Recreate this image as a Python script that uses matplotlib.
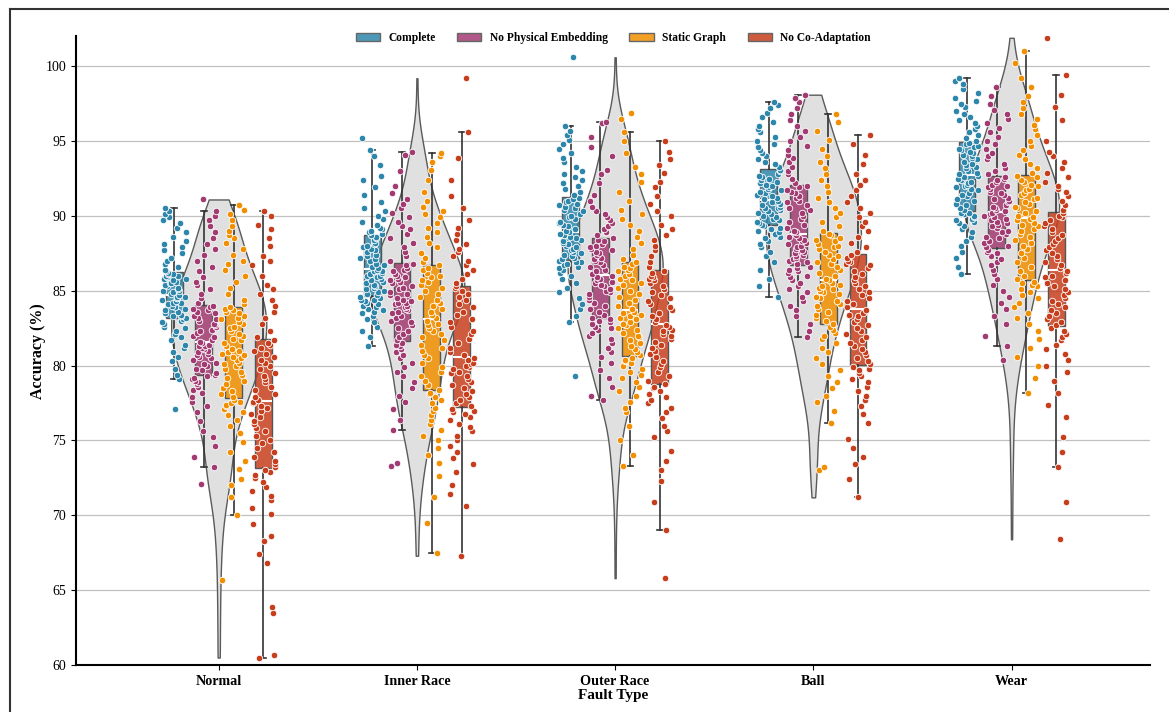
import numpy as np
import pandas as pd
import matplotlib.pyplot as plt
import matplotlib.patches as mpatches
from matplotlib.lines import Line2D
from matplotlib.colors import to_rgba
import seaborn as sns

plt.rcParams['font.family'] = ['Liberation Serif', 'DejaVu Serif']

fault_types = ["Normal", "Inner Race", "Outer Race", "Ball", "Wear"]
methods = ["Complete", "No Physical Embedding", "Static Graph", "No Co-Adaptation"]
colors = ["#2E86AB", "#A23B72", "#F18F01", "#C73E1D"]

# accuracy values, one list per (fault type, method)
normal_complete = [77.1, 79.1, 79.4, 79.8, 80.3, 80.6, 80.9, 81.2, 81.4, 81.7, 81.9, 82.1, 82.3, 82.5, 82.6, 82.8, 82.9, 83.0, 83.0, 83.1,
                   83.2, 83.3, 83.3, 83.4, 83.5, 83.6, 83.7, 83.8, 83.9, 84.0, 84.1, 84.2, 84.2, 84.3, 84.4, 84.5, 84.5, 84.6, 84.6, 84.7,
                   84.8, 84.9, 85.0, 85.0, 85.1, 85.2, 85.3, 85.4, 85.5, 85.5, 85.6, 85.7, 85.8, 85.8, 85.9, 86.0, 86.0, 86.1, 86.1, 86.2,
                   86.3, 86.4, 86.6, 86.8, 87.0, 87.2, 87.5, 87.7, 87.9, 88.1, 88.3, 88.6, 88.9, 89.2, 89.5, 89.7, 89.9, 90.1, 90.3, 90.5]
normal_nophys = [72.1, 73.2, 73.9, 74.6, 75.2, 75.6, 76.3, 76.9, 77.3, 77.6, 77.9, 78.2, 78.4, 78.6, 78.8, 78.9, 79.0, 79.1, 79.2, 79.3,
                 79.4, 79.5, 79.7, 79.8, 80.0, 80.1, 80.2, 80.4, 80.5, 80.6, 80.7, 80.8, 80.9, 81.0, 81.1, 81.2, 81.3, 81.3, 81.4, 81.5,
                 81.6, 81.7, 81.9, 82.0, 82.2, 82.3, 82.4, 82.6, 82.7, 82.8, 83.0, 83.1, 83.2, 83.3, 83.5, 83.6, 83.7, 83.8, 83.9, 84.0,
                 84.2, 84.5, 84.8, 85.1, 85.4, 85.6, 85.9, 86.3, 86.6, 87.0, 87.4, 87.8, 88.1, 88.5, 88.9, 89.3, 89.7, 90.0, 90.3, 91.1]
normal_static = [65.7, 70.0, 71.2, 72.0, 72.4, 73.1, 73.6, 74.2, 74.9, 75.5, 76.0, 76.4, 76.7, 76.9, 77.1, 77.3, 77.4, 77.5, 77.6, 77.7,
                 77.9, 78.1, 78.3, 78.5, 78.8, 79.0, 79.2, 79.4, 79.6, 79.8, 80.0, 80.1, 80.2, 80.4, 80.5, 80.6, 80.7, 80.8, 80.9, 81.0,
                 81.1, 81.3, 81.5, 81.7, 81.8, 82.0, 82.1, 82.3, 82.5, 82.6, 82.8, 82.9, 83.1, 83.2, 83.3, 83.5, 83.6, 83.7, 83.8, 83.9,
                 84.1, 84.4, 84.8, 85.2, 85.6, 86.0, 86.4, 86.8, 87.0, 87.4, 87.8, 88.2, 88.5, 88.7, 89.0, 89.3, 89.7, 90.1, 90.4, 90.7]
normal_nocoad = [60.5, 60.7, 63.5, 63.9, 66.8, 67.4, 68.3, 68.6, 69.4, 70.1, 70.5, 71.0, 71.3, 71.6, 71.9, 72.2, 72.5, 72.7, 72.9, 73.0,
                 73.2, 73.4, 73.6, 73.9, 74.2, 74.5, 74.8, 75.0, 75.3, 75.6, 75.8, 76.1, 76.3, 76.6, 76.8, 77.0, 77.2, 77.3, 77.5, 77.6,
                 77.7, 77.9, 78.1, 78.4, 78.6, 78.9, 79.1, 79.3, 79.5, 79.8, 80.0, 80.2, 80.4, 80.6, 80.8, 81.0, 81.2, 81.4, 81.5, 81.7,
                 81.9, 82.3, 82.8, 83.2, 83.6, 84.0, 84.4, 84.8, 85.1, 85.4, 86.0, 86.7, 87.0, 87.3, 88.0, 88.5, 89.1, 89.4, 90.0, 90.3]

inner_complete = [81.3, 81.9, 82.3, 82.6, 82.9, 83.1, 83.3, 83.5, 83.6, 83.7, 83.8, 83.9, 84.0, 84.1, 84.2, 84.3, 84.4, 84.4, 84.5, 84.6,
                  84.7, 84.8, 84.9, 85.0, 85.1, 85.2, 85.3, 85.4, 85.5, 85.6, 85.7, 85.8, 85.9, 86.0, 86.0, 86.1, 86.2, 86.3, 86.3, 86.4,
                  86.5, 86.6, 86.7, 86.8, 87.0, 87.1, 87.2, 87.3, 87.4, 87.6, 87.7, 87.8, 87.9, 88.0, 88.1, 88.2, 88.4, 88.5, 88.6, 88.7,
                  88.8, 88.9, 89.0, 89.1, 89.2, 89.4, 89.6, 89.8, 90.0, 90.3, 90.5, 90.9, 91.4, 91.9, 92.4, 92.7, 93.4, 94.0, 94.4, 95.2]
inner_nophys = [73.3, 73.5, 75.7, 76.4, 77.1, 77.6, 78.0, 78.5, 78.9, 79.3, 79.6, 79.9, 80.2, 80.5, 80.7, 80.9, 81.1, 81.3, 81.4, 81.5,
                81.7, 81.9, 82.1, 82.3, 82.5, 82.7, 82.9, 83.0, 83.2, 83.3, 83.5, 83.6, 83.7, 83.8, 83.9, 84.0, 84.1, 84.2, 84.2, 84.3,
                84.4, 84.5, 84.7, 84.8, 84.9, 85.1, 85.2, 85.3, 85.5, 85.6, 85.7, 85.8, 85.9, 86.0, 86.1, 86.3, 86.4, 86.5, 86.7, 86.8,
                87.0, 87.3, 87.6, 87.9, 88.2, 88.5, 88.8, 89.1, 89.3, 89.6, 89.9, 90.2, 90.5, 90.8, 91.1, 91.5, 92.0, 93.0, 94.1, 94.3]
inner_static = [67.5, 69.5, 71.2, 72.6, 73.5, 74.0, 74.5, 75.0, 75.3, 75.7, 76.1, 76.4, 76.7, 77.0, 77.2, 77.5, 77.7, 77.9, 78.1, 78.2,
                78.4, 78.7, 79.0, 79.3, 79.6, 79.9, 80.2, 80.5, 80.7, 81.0, 81.2, 81.4, 81.7, 81.9, 82.1, 82.3, 82.5, 82.7, 82.8, 83.0,
                83.2, 83.4, 83.6, 83.8, 84.0, 84.2, 84.4, 84.6, 84.8, 85.0, 85.2, 85.4, 85.6, 85.7, 85.9, 86.0, 86.2, 86.4, 86.5, 86.7,
                86.9, 87.2, 87.5, 87.9, 88.2, 88.6, 88.9, 89.2, 89.5, 89.9, 90.1, 90.3, 90.6, 91.0, 91.6, 92.4, 93.1, 93.6, 94.0, 94.2]
inner_nocoad = [67.3, 70.6, 71.4, 72.0, 72.9, 73.4, 73.8, 74.2, 74.6, 75.0, 75.3, 75.6, 75.9, 76.1, 76.4, 76.6, 76.8, 76.9, 77.0, 77.1,
                77.3, 77.5, 77.7, 77.9, 78.1, 78.3, 78.5, 78.7, 78.9, 79.1, 79.3, 79.5, 79.6, 79.8, 79.9, 80.0, 80.1, 80.2, 80.4, 80.5,
                80.7, 80.9, 81.2, 81.5, 81.8, 82.1, 82.3, 82.6, 82.9, 83.1, 83.4, 83.6, 83.9, 84.1, 84.4, 84.6, 84.8, 85.0, 85.2, 85.3,
                85.5, 85.8, 86.1, 86.4, 86.7, 87.0, 87.3, 87.6, 87.8, 88.1, 88.4, 88.8, 89.2, 89.7, 90.5, 91.3, 92.4, 93.9, 95.6, 99.2]

outer_complete = [79.3, 82.9, 83.3, 83.8, 84.1, 84.5, 84.9, 85.2, 85.5, 85.8, 86.0, 86.2, 86.4, 86.5, 86.6, 86.7, 86.8, 86.9, 86.9, 87.0,
                  87.1, 87.2, 87.3, 87.4, 87.5, 87.6, 87.7, 87.8, 87.9, 88.0, 88.1, 88.2, 88.3, 88.4, 88.5, 88.6, 88.7, 88.7, 88.8, 88.9,
                  89.0, 89.1, 89.3, 89.4, 89.5, 89.6, 89.8, 89.9, 90.0, 90.1, 90.3, 90.4, 90.5, 90.6, 90.7, 90.8, 90.9, 91.0, 91.1, 91.2,
                  91.4, 91.6, 91.8, 92.0, 92.2, 92.4, 92.6, 92.8, 93.0, 93.3, 93.6, 93.9, 94.2, 94.5, 94.8, 95.1, 95.4, 95.7, 96.0, 100.6]
outer_nophys = [77.7, 78.0, 78.6, 79.2, 79.7, 80.2, 80.6, 80.9, 81.2, 81.5, 81.8, 82.0, 82.2, 82.4, 82.5, 82.6, 82.8, 82.9, 83.0, 83.1,
                83.2, 83.4, 83.6, 83.8, 84.0, 84.2, 84.4, 84.6, 84.8, 84.9, 85.0, 85.1, 85.3, 85.4, 85.5, 85.6, 85.7, 85.8, 85.9, 86.0,
                86.1, 86.3, 86.4, 86.6, 86.7, 86.9, 87.0, 87.1, 87.2, 87.4, 87.5, 87.6, 87.7, 87.8, 87.9, 88.0, 88.1, 88.3, 88.4, 88.5,
                88.7, 88.9, 89.1, 89.3, 89.5, 89.7, 89.9, 90.1, 90.3, 90.6, 91.0, 91.4, 92.2, 92.8, 93.1, 94.0, 94.6, 95.3, 96.2, 96.3]
outer_static = [73.3, 74.0, 75.0, 76.0, 76.9, 77.2, 77.6, 78.0, 78.3, 78.6, 78.9, 79.2, 79.4, 79.6, 79.8, 80.0, 80.2, 80.3, 80.4, 80.5,
                80.7, 80.9, 81.1, 81.3, 81.5, 81.7, 81.9, 82.0, 82.2, 82.4, 82.5, 82.7, 82.8, 82.9, 83.1, 83.2, 83.3, 83.4, 83.5, 83.6,
                83.8, 84.0, 84.2, 84.4, 84.6, 84.8, 85.0, 85.2, 85.4, 85.5, 85.7, 85.8, 86.0, 86.1, 86.3, 86.4, 86.5, 86.6, 86.8, 86.9,
                87.1, 87.4, 87.8, 88.2, 88.6, 89.0, 89.4, 89.8, 90.1, 90.4, 91.0, 91.6, 92.3, 92.8, 93.3, 94.2, 95.0, 95.6, 96.5, 96.9]
outer_nocoad = [65.8, 69.0, 70.9, 72.3, 73.0, 73.6, 74.3, 75.2, 75.6, 76.0, 76.5, 76.9, 77.2, 77.5, 77.7, 77.9, 78.1, 78.3, 78.5, 78.6,
                78.8, 79.0, 79.3, 79.6, 79.9, 80.1, 80.3, 80.6, 80.8, 81.0, 81.2, 81.4, 81.6, 81.8, 82.0, 82.1, 82.3, 82.4, 82.6, 82.7,
                82.9, 83.1, 83.3, 83.5, 83.7, 83.9, 84.1, 84.3, 84.5, 84.7, 84.9, 85.1, 85.3, 85.5, 85.7, 85.8, 85.9, 86.0, 86.2, 86.3,
                86.6, 86.9, 87.3, 87.7, 88.0, 88.4, 88.7, 89.1, 89.4, 90.0, 90.3, 90.8, 91.3, 91.9, 92.3, 92.9, 93.4, 93.8, 94.3, 95.0]

ball_complete = [84.6, 85.3, 85.8, 86.4, 86.9, 87.3, 87.6, 87.9, 88.1, 88.3, 88.5, 88.6, 88.7, 88.8, 88.9, 89.0, 89.1, 89.1, 89.2, 89.3,
                 89.4, 89.5, 89.6, 89.7, 89.8, 89.9, 90.0, 90.1, 90.2, 90.3, 90.4, 90.5, 90.5, 90.6, 90.7, 90.8, 90.8, 90.9, 90.9, 91.0,
                 91.1, 91.2, 91.3, 91.4, 91.5, 91.6, 91.7, 91.8, 91.9, 92.0, 92.1, 92.2, 92.3, 92.4, 92.5, 92.6, 92.7, 92.8, 93.0, 93.1,
                 93.3, 93.5, 93.6, 93.8, 94.0, 94.2, 94.4, 94.6, 94.8, 95.0, 95.3, 95.6, 95.8, 96.0, 96.3, 96.6, 96.9, 97.2, 97.4, 97.6]
ball_nophys = [81.9, 82.3, 82.8, 83.3, 83.7, 84.0, 84.3, 84.6, 84.9, 85.1, 85.3, 85.5, 85.7, 85.9, 86.0, 86.2, 86.3, 86.4, 86.5, 86.6,
               86.8, 86.9, 87.0, 87.1, 87.2, 87.3, 87.4, 87.5, 87.6, 87.7, 87.8, 87.9, 88.0, 88.1, 88.2, 88.3, 88.4, 88.5, 88.6, 88.7,
               88.9, 89.0, 89.2, 89.4, 89.6, 89.8, 90.0, 90.2, 90.4, 90.5, 90.7, 90.9, 91.0, 91.2, 91.3, 91.5, 91.6, 91.7, 91.9, 92.0,
               92.2, 92.5, 92.8, 93.0, 93.3, 93.6, 93.9, 94.1, 94.4, 94.7, 95.0, 95.3, 95.7, 96.0, 96.4, 96.8, 97.2, 97.6, 97.9, 98.1]
ball_static = [73.0, 73.2, 76.2, 77.0, 77.6, 78.0, 78.5, 78.9, 79.3, 79.7, 80.1, 80.5, 80.9, 81.2, 81.5, 81.8, 82.0, 82.2, 82.4, 82.6,
               82.8, 83.0, 83.2, 83.4, 83.6, 83.8, 84.0, 84.1, 84.3, 84.5, 84.6, 84.8, 84.9, 85.0, 85.1, 85.2, 85.3, 85.4, 85.5, 85.7,
               85.8, 86.0, 86.2, 86.4, 86.6, 86.8, 86.9, 87.1, 87.3, 87.4, 87.6, 87.8, 87.9, 88.0, 88.1, 88.3, 88.4, 88.5, 88.7, 88.8,
               89.0, 89.3, 89.6, 89.9, 90.2, 90.5, 90.9, 91.2, 91.6, 92.0, 92.4, 92.8, 93.2, 93.6, 94.0, 94.5, 95.1, 95.7, 96.3, 96.8]
ball_nocoad = [71.2, 72.4, 73.4, 73.9, 74.5, 75.1, 76.2, 76.8, 77.3, 77.7, 78.0, 78.3, 78.6, 78.9, 79.1, 79.3, 79.5, 79.7, 79.8, 79.9,
               80.1, 80.3, 80.5, 80.7, 80.9, 81.1, 81.3, 81.5, 81.7, 81.9, 82.1, 82.3, 82.5, 82.7, 82.9, 83.1, 83.3, 83.4, 83.5, 83.7,
               83.9, 84.1, 84.3, 84.5, 84.7, 84.9, 85.1, 85.3, 85.5, 85.7, 85.9, 86.1, 86.3, 86.5, 86.7, 86.8, 86.9, 87.0, 87.2, 87.4,
               87.6, 87.9, 88.2, 88.6, 89.0, 89.3, 89.6, 89.9, 90.2, 90.5, 90.9, 91.3, 91.7, 92.1, 92.4, 92.8, 93.5, 94.1, 94.8, 95.4]

wear_complete = [86.1, 86.6, 87.2, 87.6, 88.0, 88.3, 88.6, 88.9, 89.1, 89.3, 89.5, 89.6, 89.7, 89.8, 89.9, 90.0, 90.1, 90.1, 90.2, 90.2,
                 90.4, 90.5, 90.7, 90.8, 91.0, 91.1, 91.3, 91.4, 91.5, 91.7, 91.8, 91.9, 92.0, 92.1, 92.2, 92.3, 92.4, 92.5, 92.6, 92.7,
                 92.8, 92.9, 93.0, 93.2, 93.3, 93.4, 93.5, 93.6, 93.8, 93.9, 94.0, 94.1, 94.2, 94.3, 94.4, 94.5, 94.6, 94.7, 94.8, 94.9,
                 95.0, 95.2, 95.4, 95.6, 95.8, 96.0, 96.2, 96.4, 96.6, 96.8, 97.0, 97.3, 97.5, 97.7, 97.9, 98.2, 98.5, 98.8, 99.0, 99.2]
wear_nophys = [80.4, 81.3, 82.0, 82.8, 83.3, 83.8, 84.2, 84.6, 85.0, 85.4, 85.8, 86.1, 86.4, 86.7, 86.9, 87.1, 87.3, 87.5, 87.6, 87.7,
               87.9, 88.0, 88.2, 88.3, 88.5, 88.6, 88.8, 88.9, 89.0, 89.2, 89.3, 89.4, 89.5, 89.6, 89.7, 89.8, 89.9, 90.0, 90.1, 90.2,
               90.3, 90.4, 90.5, 90.6, 90.7, 90.9, 91.0, 91.1, 91.2, 91.4, 91.5, 91.6, 91.8, 91.9, 92.0, 92.1, 92.3, 92.4, 92.5, 92.6,
               92.8, 93.0, 93.2, 93.5, 93.8, 94.0, 94.2, 94.5, 94.8, 95.0, 95.3, 95.6, 95.9, 96.2, 96.5, 96.8, 97.1, 97.5, 98.0, 98.6]
wear_static = [78.2, 79.2, 80.0, 80.6, 81.2, 81.8, 82.3, 82.8, 83.2, 83.5, 83.9, 84.2, 84.5, 84.7, 84.9, 85.1, 85.3, 85.4, 85.5, 85.6,
               85.8, 86.0, 86.3, 86.6, 86.9, 87.2, 87.5, 87.8, 88.0, 88.2, 88.4, 88.6, 88.8, 89.0, 89.1, 89.3, 89.4, 89.5, 89.7, 89.8,
               89.9, 90.0, 90.2, 90.3, 90.5, 90.6, 90.8, 90.9, 91.1, 91.2, 91.4, 91.5, 91.7, 91.8, 92.0, 92.1, 92.3, 92.4, 92.6, 92.7,
               92.9, 93.2, 93.5, 93.8, 94.1, 94.4, 94.7, 95.0, 95.4, 95.8, 96.1, 96.5, 96.8, 97.2, 97.6, 98.0, 98.6, 99.2, 100.2, 101.0]
wear_nocoad = [68.4, 70.9, 73.2, 74.2, 75.2, 76.6, 77.4, 78.2, 79.0, 79.6, 80.0, 80.4, 80.8, 81.1, 81.4, 81.7, 81.9, 82.1, 82.3, 82.5,
               82.7, 82.9, 83.1, 83.3, 83.5, 83.7, 83.9, 84.1, 84.3, 84.5, 84.7, 84.9, 85.1, 85.3, 85.5, 85.7, 85.9, 86.0, 86.2, 86.3,
               86.5, 86.7, 86.9, 87.1, 87.3, 87.5, 87.7, 87.9, 88.1, 88.3, 88.5, 88.7, 88.9, 89.1, 89.3, 89.5, 89.7, 89.9, 90.0, 90.2,
               90.4, 90.7, 91.0, 91.3, 91.6, 91.8, 92.0, 92.3, 92.6, 92.9, 93.2, 93.6, 94.0, 94.3, 95.0, 96.4, 97.3, 98.1, 99.4, 101.9]

groups = {
    "Normal": [normal_complete, normal_nophys, normal_static, normal_nocoad],
    "Inner Race": [inner_complete, inner_nophys, inner_static, inner_nocoad],
    "Outer Race": [outer_complete, outer_nophys, outer_static, outer_nocoad],
    "Ball": [ball_complete, ball_nophys, ball_static, ball_nocoad],
    "Wear": [wear_complete, wear_nophys, wear_static, wear_nocoad],
}

np.random.seed(0)

fig, ax = plt.subplots(figsize=(11.69, 7.12), dpi=100)
fig.subplots_adjust(left=0.065, right=0.984, bottom=0.066, top=0.949)

x = np.arange(len(fault_types))
offsets = [-0.225, -0.075, 0.075, 0.225]

# gray violin of all methods pooled, per fault type
pooled = [np.concatenate(groups[f]) for f in fault_types]
vp = ax.violinplot(pooled, positions=x, widths=0.48, showextrema=False)
for body in vp['bodies']:
    body.set_facecolor('#e0e0e0')
    body.set_edgecolor('#5a5a5a')
    body.set_linewidth(1.0)
    body.set_alpha(1)
    body.set_zorder(1)

for j, m in enumerate(methods):
    data_j = [groups[f][j] for f in fault_types]
    pos = x + offsets[j]
    ax.boxplot(data_j, positions=pos, widths=0.085, patch_artist=True,
               showfliers=False, manage_ticks=False, capwidths=0.03,
               boxprops=dict(facecolor=to_rgba(colors[j], 0.85), edgecolor='#555555', linewidth=1.0),
               medianprops=dict(color='white', linewidth=1.5),
               whiskerprops=dict(color='#333333', linewidth=1.2),
               capprops=dict(color='#333333', linewidth=1.2),
               zorder=2)
    xs = np.concatenate([[p] * len(d) for p, d in zip(pos, data_j)])
    ys = np.concatenate(data_j)
    sns.stripplot(x=xs, y=ys, native_scale=True, orient='x', jitter=0.062, ax=ax,
                  color=colors[j], size=4.7, edgecolor='white', linewidth=0.6, zorder=3)

ax.set_xlim(-0.72, 4.70)
ax.set_ylim(60, 102)
ax.set_xticks(x)
ax.set_xticklabels(fault_types, fontsize=10.2, fontweight='bold')
ax.set_yticks(range(60, 101, 5))
ax.tick_params(axis='y', labelsize=10)
ax.set_xlabel("Fault Type", fontsize=11, fontweight='bold', labelpad=1)
ax.set_ylabel("Accuracy (%)", fontsize=11.5, fontweight='bold', labelpad=0)
ax.yaxis.grid(True, color='#c0c0c0', linewidth=0.9)
ax.set_axisbelow(True)
for s in ['top', 'right']:
    ax.spines[s].set_visible(False)
for s in ['left', 'bottom']:
    ax.spines[s].set_linewidth(1.5)

handles = [mpatches.Patch(facecolor=to_rgba(c, 0.85), edgecolor='#666666', label=m)
           for c, m in zip(colors, methods)]
ax.legend(handles=handles, loc='upper center', bbox_to_anchor=(0.5, 1.024), ncol=4,
          frameon=False, prop=dict(weight='bold', size=8.3), handlelength=2.1,
          handletextpad=0.7, columnspacing=1.9)

# frame line of the original figure (left and top edges)
fig.add_artist(Line2D([0.0086, 0.0086], [0, 0.987], transform=fig.transFigure, color='#333333', lw=1.5))
fig.add_artist(Line2D([0.0086, 1.0], [0.987, 0.987], transform=fig.transFigure, color='#333333', lw=1.5))

plt.savefig("out.png", dpi=100)
